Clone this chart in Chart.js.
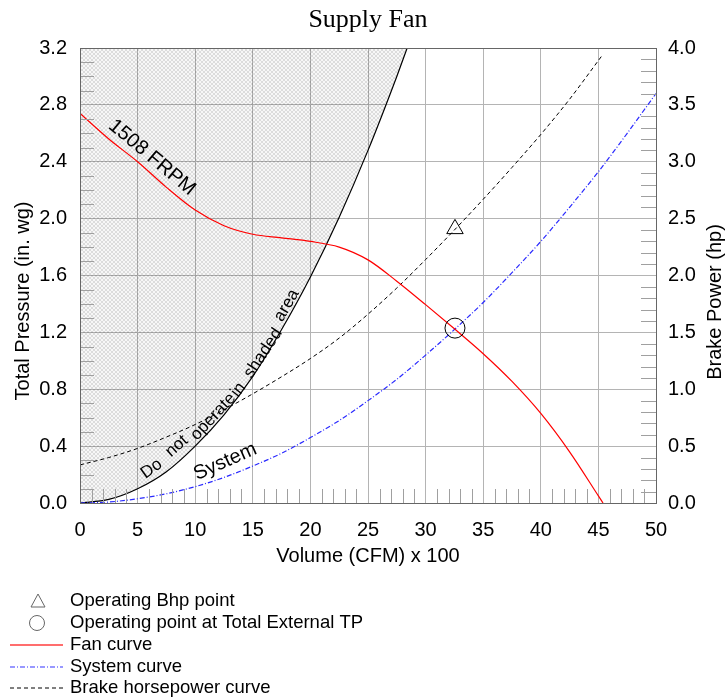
<!DOCTYPE html>
<html>
<head>
<meta charset="utf-8">
<script src="https://cdn.jsdelivr.net/npm/chart.js@4.4.1/dist/chart.umd.min.js"></script>
<style>
  body { margin: 0; background: #fff; }
  #wrap { width: 725px; height: 700px; }
</style>
</head>
<body>
<div id="wrap"><canvas id="fan" width="725" height="700"></canvas></div>
<script>
// Volume (CFM x 100) samples
const volume = [0, 2.5, 5, 7.5, 10, 12.5, 15, 17.5, 20, 22.5, 25, 27.5, 30, 32.5, 35, 37.5, 40, 42.5, 45, 45.4]
const fanPressure = [2.74, 2.56, 2.40, 2.22, 2.06, 1.95, 1.89, 1.865, 1.84, 1.80, 1.71, 1.56, 1.395, 1.225, 1.05, 0.855, 0.63, 0.36, 0.05, 0]
const brakeHp = [0.335, 0.40, 0.48, 0.58, 0.69, 0.82, 0.96, 1.11, 1.27, 1.45, 1.66, 1.89, 2.14, 2.40, 2.67, 2.95, 3.24, 3.55, 3.89, 3.945]

const systemVolume = [0, 2.5, 5, 7.5, 10, 12.5, 15, 17.5, 20, 22.5, 25, 27.5, 30, 32.5, 35, 37.5, 40, 42.5, 45, 47.5, 50]
const systemPressure = [0, 0.007, 0.03, 0.065, 0.115, 0.18, 0.26, 0.35, 0.46, 0.58, 0.72, 0.87, 1.04, 1.22, 1.41, 1.62, 1.84, 2.08, 2.33, 2.60, 2.88]

// boundary of the "do not operate" region
const limitVolume = [0, 2.5, 5, 7.5, 10, 12.5, 15, 17.5, 20, 22.5, 25, 27.5, 28.4]
const limitPressure = [0, 0.025, 0.10, 0.22, 0.40, 0.62, 0.89, 1.22, 1.59, 2.01, 2.48, 3.0, 3.2]

// operating point
const opVolume = [32.55]
const opPressure = [1.23]
const opBhp = [2.41]

const xTicks = [0, 5, 10, 15, 20, 25, 30, 35, 40, 45, 50]
const legendLabels = ["Operating Bhp point", "Operating point at Total External TP", "Fan curve", "System curve", "Brake horsepower curve"]

const pts = (xs, ys) => xs.map((x, i) => ({ x: x, y: ys[i] }))
const SANS = "'Liberation Sans', Arial, sans-serif"

function hatch() {
    const c = document.createElement("canvas")
    c.width = 4
    c.height = 4
    const g = c.getContext("2d")
    g.fillStyle = "rgba(0,0,0,0.03)"
    g.fillRect(0, 0, 4, 4)
    g.fillStyle = "rgba(0,0,0,0.11)"
    for (let i = 0; i < 4; i++) {
        g.fillRect(i, i, 1, 1)
        g.fillRect(3 - i, i, 1, 1)
    }
    return g.createPattern(c, "repeat")
}

// words placed along the boundary curve: [text, volume, pressure, angle]
const shadedWords = [
    ["Do", 6.22, 0.24, -36],
    ["not", 8.4, 0.40, -41],
    ["operate", 11.57, 0.607, -47],
    ["in", 13.74, 0.795, -52],
    ["shaded", 15.9, 1.053, -56],
    ["area", 17.95, 1.39, -60],
]

function rotText(ctx, text, x, y, deg, font) {
    ctx.save()
    ctx.translate(x, y)
    ctx.rotate(deg * Math.PI / 180)
    ctx.font = font
    ctx.fillStyle = "#000"
    ctx.textAlign = "center"
    ctx.textBaseline = "middle"
    ctx.fillText(text, 0, 0)
    ctx.restore()
}

const extras = {
    id: "extras",
    afterDatasetsDraw(chart) {
        const { ctx, chartArea: a, scales } = chart
        const xs = scales.x, ys = scales.y, y2 = scales.y2

        // minor ticks
        ctx.save()
        ctx.strokeStyle = "#a0a0a0"
        ctx.lineWidth = 1
        ctx.beginPath()
        for (let v = 1; v < 50; v++) {
            if (v % 5 === 0) continue
            const px = Math.round(xs.getPixelForValue(v)) + 0.5
            ctx.moveTo(px, a.bottom)
            ctx.lineTo(px, a.bottom - 14)
        }
        for (let k = 1; k < 32; k++) {
            if (k % 4 === 0) continue
            const py = Math.round(ys.getPixelForValue(k / 10)) + 0.5
            ctx.moveTo(a.left, py)
            ctx.lineTo(a.left + 14, py)
        }
        for (let k = 1; k < 40; k++) {
            if (k % 5 === 0) continue
            const py = Math.round(y2.getPixelForValue(k / 10)) + 0.5
            ctx.moveTo(a.right, py)
            ctx.lineTo(a.right - 15, py)
        }
        ctx.stroke()

        // frame
        ctx.strokeStyle = "#666"
        ctx.strokeRect(Math.round(a.left) + 0.5, Math.round(a.top) + 0.5, Math.round(a.right - a.left), Math.round(a.bottom - a.top))
        ctx.restore()

        // curve labels
        rotText(ctx, "1508 FRPM", xs.getPixelForValue(6.25), ys.getPixelForValue(2.43), 40, "20px " + SANS)
        rotText(ctx, "System", xs.getPixelForValue(12.6), ys.getPixelForValue(0.29), -24, "20px " + SANS)
        shadedWords.forEach(w => {
            rotText(ctx, w[0], xs.getPixelForValue(w[1]), ys.getPixelForValue(w[2]), w[3], "17px " + SANS)
        })
    },
    afterDraw(chart) {
        const { ctx, chartArea: a } = chart
        const cx = (a.left + a.right) / 2

        // title
        ctx.save()
        ctx.font = "26px 'Liberation Serif', 'Times New Roman', serif"
        ctx.fillStyle = "#000"
        ctx.textAlign = "center"
        ctx.textBaseline = "alphabetic"
        ctx.fillText("Supply Fan", cx, 27)
        ctx.restore()

        // axis titles
        rotText(ctx, "Total Pressure (in. wg)", 23, 301, -90, "20px " + SANS)
        rotText(ctx, "Brake Power (hp)", 715, 302, -90, "20px " + SANS)

        // legend
        const rows = [601, 623, 645, 667, 688]
        ctx.save()
        ctx.lineWidth = 1
        ctx.strokeStyle = "#666"
        ctx.beginPath()
        ctx.moveTo(38, rows[0] - 7)
        ctx.lineTo(45, rows[0] + 6)
        ctx.lineTo(31, rows[0] + 6)
        ctx.closePath()
        ctx.stroke()
        ctx.beginPath()
        ctx.arc(37, rows[1], 7.5, 0, Math.PI * 2)
        ctx.stroke()
        const seg = (y, color, dash, w) => {
            ctx.beginPath()
            ctx.strokeStyle = color
            ctx.lineWidth = w
            ctx.setLineDash(dash)
            ctx.moveTo(10, y)
            ctx.lineTo(63, y)
            ctx.stroke()
        }
        seg(rows[2], "rgb(255,60,60)", [], 1.5)
        seg(rows[3], "rgb(50,50,255)", [5, 2, 1, 2], 1.2)
        seg(rows[4], "#000", [4, 3], 1)
        ctx.setLineDash([])
        ctx.font = "18.5px " + SANS
        ctx.fillStyle = "#000"
        ctx.textBaseline = "middle"
        ctx.textAlign = "left"
        legendLabels.forEach((l, i) => ctx.fillText(l, 70, rows[i]))
        ctx.restore()
    }
}

new Chart(document.getElementById("fan"), {
    type: "line",
    data: {
        datasets: [
            {
                label: "Operating point at Total External TP",
                type: "scatter",
                data: pts(opVolume, opPressure),
                yAxisID: "y",
                pointStyle: "circle",
                pointRadius: 10,
                borderColor: "#000",
                backgroundColor: "rgba(0,0,0,0)",
                borderWidth: 1,
            },
            {
                label: "Operating Bhp point",
                type: "scatter",
                data: pts(opVolume, opBhp),
                yAxisID: "y2",
                pointStyle: "triangle",
                pointRadius: 9.5,
                borderColor: "#000",
                backgroundColor: "rgba(0,0,0,0)",
                borderWidth: 1,
            },
            {
                label: "Fan curve",
                data: pts(volume, fanPressure),
                yAxisID: "y",
                borderColor: "#ff0000",
                borderWidth: 1.2,
                pointRadius: 0,
                cubicInterpolationMode: "monotone",
                fill: false,
            },
            {
                label: "System curve",
                data: pts(systemVolume, systemPressure),
                yAxisID: "y",
                borderColor: "#2a2aff",
                borderWidth: 1.2,
                borderDash: [5, 2, 1, 2],
                pointRadius: 0,
                cubicInterpolationMode: "monotone",
                fill: false,
            },
            {
                label: "Brake horsepower curve",
                data: pts(volume, brakeHp),
                yAxisID: "y2",
                borderColor: "#000",
                borderWidth: 1,
                borderDash: [4, 3],
                pointRadius: 0,
                cubicInterpolationMode: "monotone",
                fill: false,
            },
            {
                label: "Limit",
                data: pts(limitVolume, limitPressure),
                yAxisID: "y",
                borderColor: "#000",
                borderWidth: 1.2,
                pointRadius: 0,
                cubicInterpolationMode: "monotone",
                fill: "end",
                backgroundColor: hatch(),
            },
        ],
    },
    options: {
        responsive: false,
        animation: false,
        layout: { padding: { top: 48, bottom: 130, left: 0, right: 0 } },
        plugins: {
            legend: { display: false },
            tooltip: { enabled: false },
        },
        scales: {
            x: {
                type: "linear",
                min: 0,
                max: 50,
                afterBuildTicks: s => { s.ticks = xTicks.map(v => ({ value: v })) },
                afterFit: s => { s.height = 67 },
                ticks: { font: { family: SANS, size: 20 }, color: "#000", padding: 15, maxRotation: 0 },
                grid: { color: "#b4b4b4", drawTicks: false },
                border: { color: "#555" },
                title: { display: true, text: "Volume (CFM) x 100", font: { family: SANS, size: 20 }, color: "#000", padding: { top: 0, bottom: 2 } },
            },
            y: {
                position: "left",
                min: 0,
                max: 3.2,
                afterFit: s => { s.width = 80 },
                ticks: { stepSize: 0.4, font: { family: SANS, size: 20 }, color: "#000", padding: 13, callback: v => v.toFixed(1) },
                grid: { color: "#b4b4b4", drawTicks: false },
                border: { color: "#555" },
            },
            y2: {
                position: "right",
                min: 0,
                max: 4,
                afterFit: s => { s.width = 69 },
                ticks: { stepSize: 0.5, font: { family: SANS, size: 20 }, color: "#000", padding: 12, callback: v => v.toFixed(1) },
                grid: { drawOnChartArea: false, drawTicks: false },
                border: { color: "#555" },
            },
        },
    },
    plugins: [extras],
})
</script>
</body>
</html>
